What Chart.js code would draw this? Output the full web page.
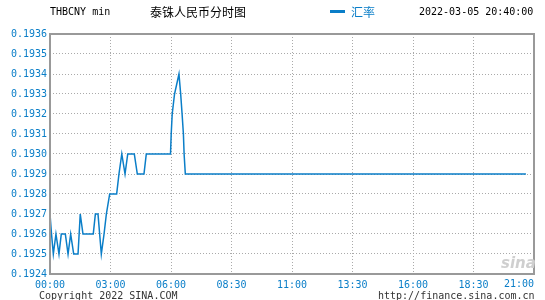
<!DOCTYPE html>
<html>
<head>
<meta charset="utf-8">
<script src="https://cdn.jsdelivr.net/npm/chart.js@4"></script>
<style>
    body { margin: 0; background: #fff; }
    #wrap { position: relative; width: 545px; height: 300px; }
    .txt { position: absolute; font: 10px/12px "DejaVu Sans Mono", monospace; color: #000; white-space: nowrap; }
    .cjk { font: 12px/14px "Noto Sans CJK SC", sans-serif; }
</style>
</head>
<body>
<div id="wrap">
    <canvas id="rateChart" width="545" height="300"></canvas>
    <div class="txt" style="left:50px;top:6px">THBCNY min</div>
    <div class="txt cjk" style="left:150px;top:5px">泰铢人民币分时图</div>
    <div style="position:absolute;left:330px;top:10px;width:15px;height:3px;background:#0a7ec8"></div>
    <div class="txt cjk" style="left:351px;top:5px;color:#0a7ec8">汇率</div>
    <div class="txt" style="left:419px;top:6px">2022-03-05 20:40:00</div>
    <div class="txt" style="left:39px;top:290px;color:#333">Copyright 2022 SINA.COM</div>
    <div class="txt" style="left:378px;top:290px;color:#333">http://finance.sina.com.cn</div>
    <div class="txt" style="left:501px;top:255px;font:italic bold 15px/16px 'DejaVu Sans', sans-serif;color:#cfcfcf">sina</div>
</div>
<script>
// time axis: 8 equal slots of 60 units each
const xLabels = ['00:00', '03:00', '06:00', '08:30', '11:00', '13:30', '16:00', '18:30', '21:00'];
const yTicks = [0.1924, 0.1925, 0.1926, 0.1927, 0.1928, 0.1929, 0.1930,
                0.1931, 0.1932, 0.1933, 0.1934, 0.1935, 0.1936];

const rateX = [0, 1.5, 3.3, 5.9, 8.9, 11.2, 15.2, 17.9, 20.5, 23.5,
               27.8, 30, 32.7, 42.9, 45, 47.6, 50.9, 53.6, 55.9, 59.2,
               66.1, 68.4, 71.2, 74.4, 77.1, 83.6, 86.6, 93.2, 95.5, 119.5,
               120.2, 121.2, 123.5, 127.9, 129.6, 131, 132.3, 133, 134.2, 472];
const rateY = [0.1927, 0.1926, 0.1925, 0.1926, 0.1925, 0.1926, 0.1926, 0.1925, 0.1926, 0.1925,
               0.1925, 0.1927, 0.1926, 0.1926, 0.1927, 0.1927, 0.1925, 0.1926, 0.1927, 0.1928,
               0.1928, 0.1929, 0.1930, 0.1929, 0.1930, 0.1930, 0.1929, 0.1929, 0.1930, 0.1930,
               0.1931, 0.1932, 0.1933, 0.1934, 0.1933, 0.1932, 0.1931, 0.1930, 0.1929, 0.1929];

const blue = '#0a7ec8';
const tickFont = { family: '"DejaVu Sans Mono", monospace', size: 10 };

// frame round the plot + right aligned last time label
const framePlugin = {
    id: 'frame',
    afterDraw(chart) {
        const { ctx, chartArea: a } = chart;
        ctx.save();
        ctx.strokeStyle = '#999';
        ctx.lineWidth = 2;
        ctx.strokeRect(a.left, a.top, a.right - a.left, a.bottom - a.top);
        ctx.fillStyle = blue;
        ctx.font = '10px "DejaVu Sans Mono", monospace';
        ctx.textAlign = 'right';
        ctx.textBaseline = 'top';
        ctx.fillText(xLabels[xLabels.length - 1], chart.scales.x.getPixelForValue(480), a.bottom + 5);
        ctx.restore();
    }
};

new Chart(document.getElementById('rateChart'), {
    type: 'line',
    data: {
        datasets: [{
            label: '汇率',
            data: rateX.map((x, i) => ({ x: x, y: rateY[i] })),
            borderColor: blue,
            borderWidth: 1.5,
            pointRadius: 0,
            tension: 0
        }]
    },
    options: {
        responsive: false,
        animation: false,
        layout: { padding: { top: 34, right: 11, left: 0, bottom: 0 } },
        plugins: {
            legend: { display: false },
            tooltip: { enabled: false }
        },
        scales: {
            x: {
                type: 'linear',
                min: 0,
                max: 480,
                afterBuildTicks: (s) => { s.ticks = xLabels.map((l, i) => ({ value: i * 60 })); },
                afterFit: (s) => { s.height = 26; s.paddingLeft = 0; s.paddingRight = 0; },
                ticks: {
                    color: blue,
                    font: tickFont,
                    padding: 5,
                    maxRotation: 0,
                    autoSkip: false,
                    callback: (v, i) => i === xLabels.length - 1 ? '' : xLabels[i]
                },
                grid: { color: '#aaa', lineWidth: 1, drawTicks: false },
                border: { display: false, dash: [1, 2] }
            },
            y: {
                min: 0.1924,
                max: 0.1936,
                afterBuildTicks: (s) => { s.ticks = yTicks.map(v => ({ value: v })); },
                afterFit: (s) => { s.width = 50; s.paddingTop = 0; s.paddingBottom = 0; },
                ticks: {
                    color: blue,
                    font: tickFont,
                    padding: 3,
                    callback: (v) => v.toFixed(4)
                },
                grid: { color: '#aaa', lineWidth: 1, drawTicks: false },
                border: { display: false, dash: [1, 2] }
            }
        }
    },
    plugins: [framePlugin]
});
</script>
</body>
</html>
